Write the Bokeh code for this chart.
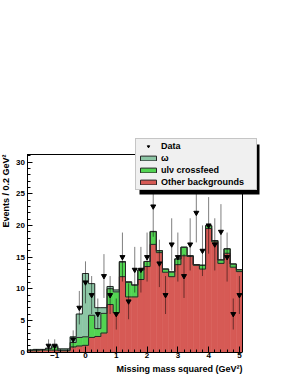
import numpy as np
from bokeh.plotting import figure
from bokeh.models import (ColumnDataSource, Legend, LegendItem, Label, BoxAnnotation,
                          SingleIntervalTicker, Range1d)
from bokeh.embed import file_html
from bokeh.resources import INLINE

# ---------------- data ----------------
bin_centers = [-1.8, -1.6, -1.4, -1.2, -1.0, -0.8, -0.6, -0.4, -0.2, 0.0,
               0.2, 0.4, 0.6, 0.8, 1.0, 1.2, 1.4, 1.6, 1.8, 2.0,
               2.2, 2.4, 2.6, 2.8, 3.0, 3.2, 3.4, 3.6, 3.8, 4.0,
               4.2, 4.4, 4.6, 4.8, 5.0]
other_bkg = [0.2, 0.2, 0.3, 0.3, 0.3, 0.2, 0.2, 0.8, 0.95, 1.05,
             2.3, 2.45, 3.0, 7.5, 6.2, 11.9, 8.7, 8.7, 11.45, 13.5,
             17.0, 15.7, 12.6, 11.9, 13.8, 15.2, 15.1, 13.7, 13.1, 19.5,
             17.4, 14.0, 15.6, 13.4, 12.7]
ulnu_crossfeed = [0.1, 0.2, 0.1, 0.2, 0.5, 0.1, 0.1, 0.7, 1.35, 1.35,
                  3.5, 1.25, 3.1, 2.5, 3.3, 2.3, 2.3, 1.85, 1.5, 0.8,
                  2.0, 0.3, 0.5, 0.75, 0.9, 1.35, 0.1, 0.1, 0.6, 0.45,
                  0.2, 0.55, 0.7, 0.5, 0.3]
omega_bkg = [0.0, 0.0, 0.0, 0.1, 0.2, 0.2, 0.2, 0.9, 3.7, 10.0,
             5.0, 3.3, 0.9, 0.35, 0.3, 0.1, 0.1, 0.05, 0.05, 0.0,
             0.05, 0.0, 0.0, 0.0, 0.0, 0.0, 0.0, 0.0, 0.0, 0.0,
             0.0, 0.0, 0.0, 0.0, 0.0]
data_x = [-1.2, -1.0, -0.4, -0.2, 0.0, 0.2, 0.4, 0.6, 0.8, 1.0,
          1.2, 1.4, 1.6, 1.8, 2.0, 2.2, 2.4, 2.6, 2.8, 3.0,
          3.2, 3.4, 3.6, 3.8, 4.0, 4.2, 4.4, 4.6, 4.8, 5.0]
data_counts = [1, 1, 2, 7, 11, 9, 6, 12, 9, 6,
               15, 8, 13, 13, 15, 23, 14, 9, 17, 15,
               12, 17, 22, 16, 20, 17, 19, 15, 6, 9]
legend_labels = ["Data", "\u03c9", "ul\u03bd crossfeed", "Other backgrounds"]

# ---------------- style / layout ----------------
BIN_W = 0.2
X_MIN, X_MAX = -1.9, 5.1          # histogram axis range
Y_MIN, Y_MAX = 0.0, 31.2
W, H = 291, 376
AL, AR, AT, AB = 26.5, 242.0, 154.0, 351.5   # axis box edges (canvas px)
SX = (AR - AL) / (X_MAX - X_MIN)     # px per x unit
SY = (AB - AT) / (Y_MAX - Y_MIN)     # px per y unit
RED = "#d65a55"
GREEN = "#52d452"
TEAL = "#8cc6a5"
OUT = "#262626"
FONT = "Liberation Sans"


def px_to_x(px):
    return X_MIN + (px - AL) / SX


def py_to_y(py):
    return Y_MIN + (AB - py) / SY


# the plotting frame fills the whole canvas; the axes are placed inside it
p = figure(width=W, height=H, output_backend="svg", toolbar_location=None,
           x_range=Range1d(px_to_x(0), px_to_x(W)), y_range=Range1d(py_to_y(H), py_to_y(0)),
           min_border=0, min_border_left=0, min_border_right=0,
           min_border_top=0, min_border_bottom=0)
p.title.visible = False
p.xgrid.visible = False
p.ygrid.visible = False
p.outline_line_color = None
p.background_fill_color = "white"
p.border_fill_color = "white"

# ---------------- stacked histogram ----------------
c = np.array(bin_centers)
r = np.array(other_bkg)
g = np.array(ulnu_crossfeed)
o = np.array(omega_bkg)
lvl1 = r
lvl2 = r + g
lvl3 = r + g + o
src = ColumnDataSource(dict(left=c - BIN_W / 2, right=c + BIN_W / 2,
                            lvl0=np.zeros_like(r), lvl1=lvl1, lvl2=lvl2, lvl3=lvl3))
p.quad(left="left", right="right", bottom="lvl0", top="lvl1", source=src,
       fill_color=RED, line_color=RED, line_width=0.6)
p.quad(left="left", right="right", bottom="lvl1", top="lvl2", source=src,
       fill_color=GREEN, line_color=GREEN, line_width=0.6)
p.quad(left="left", right="right", bottom="lvl2", top="lvl3", source=src,
       fill_color=TEAL, line_color=TEAL, line_width=0.6)

edges = list(c - BIN_W / 2) + [c[-1] + BIN_W / 2]
for lvl in (lvl3, lvl2, lvl1):
    p.step(x=edges, y=list(lvl) + [lvl[-1]], mode="after", line_color=OUT, line_width=1)

# frame: top and right edges of the axis box
p.segment(x0=[X_MIN, X_MAX], y0=[Y_MAX, Y_MIN], x1=[X_MAX, X_MAX], y1=[Y_MAX, Y_MAX],
          line_color="black", line_width=1)

# ---------------- data points ----------------
dx = np.array(data_x, dtype=float)
dn = np.array(data_counts, dtype=float)
err = np.sqrt(dn)
p.segment(x0=dx, y0=dn - err, x1=dx, y1=dn + err, line_color="black",
          line_alpha=0.5, line_width=1)
data_r = p.scatter(dx, dn, marker="inverted_triangle", size=5,
                   fill_color="black", line_color="black")

# legend proxies (hidden copies of the stacked histogram with an outline)
leg_o = p.quad(left="left", right="right", bottom="lvl2", top="lvl3", source=src,
               fill_color=TEAL, line_color=OUT, line_width=1, visible=False)
leg_g = p.quad(left="left", right="right", bottom="lvl1", top="lvl2", source=src,
               fill_color=GREEN, line_color=OUT, line_width=1, visible=False)
leg_r = p.quad(left="left", right="right", bottom="lvl0", top="lvl1", source=src,
               fill_color=RED, line_color=OUT, line_width=1, visible=False)

# ---------------- axes (fixed inside the frame) ----------------
p.xaxis.fixed_location = Y_MIN
p.yaxis.fixed_location = X_MIN
p.xaxis.bounds = (X_MIN, X_MAX)
p.yaxis.bounds = (Y_MIN, Y_MAX)
p.xaxis.ticker = SingleIntervalTicker(interval=1, num_minor_ticks=5)
p.yaxis.ticker = SingleIntervalTicker(interval=5, num_minor_ticks=5)
for ax in (p.xaxis, p.yaxis):
    ax.major_tick_out = 0
    ax.minor_tick_out = 0
    ax.minor_tick_in = 3
    ax.axis_line_color = "black"
    ax.major_tick_line_color = "black"
    ax.minor_tick_line_color = "black"
    ax.major_label_text_font = FONT
    ax.major_label_text_font_style = "bold"
    ax.major_label_text_font_size = "8px"
    ax.major_label_text_color = "black"
p.xaxis.major_tick_in = 6
p.yaxis.major_tick_in = 5
p.xaxis.major_label_standoff = 1
p.yaxis.major_label_standoff = 2

p.add_layout(Label(x=px_to_x(5.5), y=Y_MAX, text="Events / 0.2 GeV\u00b2",
                   angle=np.pi / 2, text_align="right", text_baseline="middle",
                   text_font=FONT, text_font_style="bold", text_font_size="9px",
                   text_color="black"))
p.add_layout(Label(x=X_MAX, y=py_to_y(AB + 12), text="Missing mass squared (GeV\u00b2)",
                   text_align="right", text_baseline="top",
                   text_font=FONT, text_font_style="bold", text_font_size="9px",
                   text_color="black"))

# ---------------- legend ----------------
LEG_L, LEG_B = 135, 190          # legend bottom-left corner (canvas px)
LEG_W, LEG_H = 120, 50
SH = 4                           # shadow offset
p.add_layout(BoxAnnotation(left=px_to_x(LEG_L + SH), right=px_to_x(LEG_L + LEG_W + SH),
                           top=py_to_y(LEG_B - LEG_H + SH), bottom=py_to_y(LEG_B + SH),
                           fill_color="black", fill_alpha=1, line_color=None))

legend = Legend(items=[LegendItem(label=legend_labels[0], renderers=[data_r]),
                       LegendItem(label=legend_labels[1], renderers=[leg_o]),
                       LegendItem(label=legend_labels[2], renderers=[leg_g]),
                       LegendItem(label=legend_labels[3], renderers=[leg_r])],
                location=(LEG_L, H - LEG_B), orientation="vertical",
                glyph_width=20, glyph_height=6, label_height=10, label_width=93,
                label_standoff=3, spacing=2, padding=2, margin=0,
                label_text_font=FONT, label_text_font_style="bold",
                label_text_font_size="9px", label_text_color="black",
                inactive_fill_alpha=0,
                background_fill_color="#f0f0f0", background_fill_alpha=1,
                border_line_color="#999999", border_line_width=1)
p.add_layout(legend)

open("out.html", "w").write(file_html(p, INLINE))
